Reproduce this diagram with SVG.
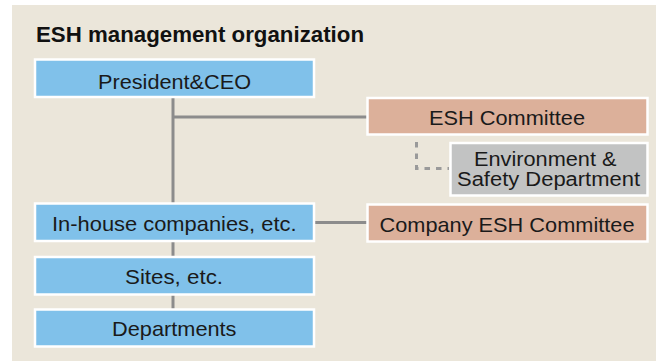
<svg xmlns="http://www.w3.org/2000/svg" width="656" height="361" viewBox="0 0 656 361">
<style>
.bg{fill:#ebe6da}
.box{stroke:#ffffff;stroke-width:2.5}
.blue{fill:#80c1ea}
.sal{fill:#dcb09a}
.gray{fill:#c2c3c3}
.t{font-family:"Liberation Sans",Arial,Helvetica,sans-serif;font-size:21px;fill:#1a1a1a}
.ts{font-size:20px}
.title{font-family:"Liberation Sans",Arial,Helvetica,sans-serif;font-size:21.5px;font-weight:bold;fill:#111}
.ln{stroke:#8c8c8c;stroke-width:3;fill:none}
.dash{stroke:#9a9a9a;stroke-width:3;fill:none;stroke-dasharray:5.5 6}
</style>
<rect class="bg" x="12" y="5" width="644" height="356"/>
<text class="title" x="36" y="42" textLength="328" lengthAdjust="spacingAndGlyphs">ESH management organization</text>
<g id="connectors">
<path class="ln" d="M173 97 V309"/>
<path class="ln" d="M173 117 H367"/>
<path class="ln" d="M314 222.5 H367"/>
<path class="dash" d="M416.5 142 V168.5 H449"/>
</g>
<g id="president">
<rect class="box blue" x="35" y="59.5" width="279" height="37.5"/>
<text class="t" x="98" y="89" textLength="153" lengthAdjust="spacingAndGlyphs">President&amp;CEO</text>
</g>
<g id="esh-committee">
<rect class="box sal" x="367.5" y="98" width="280" height="36.5"/>
<text class="t" x="429" y="125" textLength="156" lengthAdjust="spacingAndGlyphs">ESH Committee</text>
</g>
<g id="env-safety">
<rect class="box gray" x="450.5" y="143" width="197" height="52.5"/>
<text class="t ts" x="474" y="166" textLength="142.5" lengthAdjust="spacingAndGlyphs">Environment &amp;</text>
<text class="t ts" x="457" y="185.5" textLength="183" lengthAdjust="spacingAndGlyphs">Safety Department</text>
</g>
<g id="inhouse">
<rect class="box blue" x="35" y="203.5" width="279" height="37.5"/>
<text class="t" x="52" y="231" textLength="244.5" lengthAdjust="spacingAndGlyphs">In-house companies, etc.</text>
</g>
<g id="company-esh">
<rect class="box sal" x="367.5" y="204.5" width="280" height="37"/>
<text class="t" x="379.5" y="231.5" textLength="255" lengthAdjust="spacingAndGlyphs">Company ESH Committee</text>
</g>
<g id="sites">
<rect class="box blue" x="35" y="257" width="279" height="37.5"/>
<text class="t" x="125" y="283.5" textLength="98" lengthAdjust="spacingAndGlyphs">Sites, etc.</text>
</g>
<g id="departments">
<rect class="box blue" x="35" y="309.5" width="279" height="37"/>
<text class="t" x="112" y="336" textLength="124.5" lengthAdjust="spacingAndGlyphs">Departments</text>
</g>
</svg>
